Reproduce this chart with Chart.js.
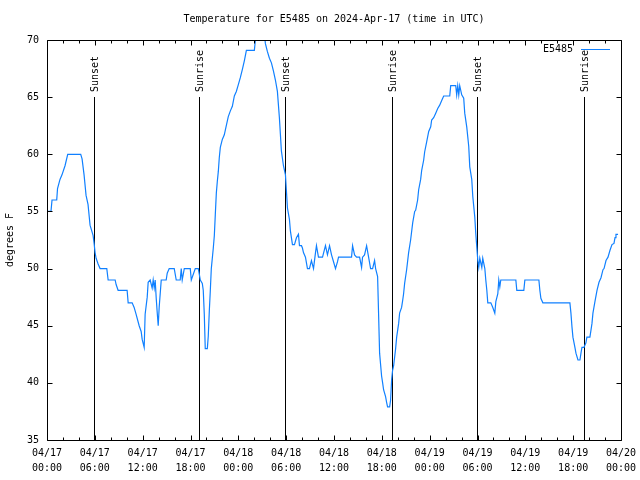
<!DOCTYPE html>
<html><head><meta charset="utf-8">
<script src="https://cdn.jsdelivr.net/npm/chart.js@4/dist/chart.umd.min.js"></script>
<style>html,body{margin:0;padding:0;background:#fff}</style>
</head><body>
<canvas id="c" width="640" height="480"></canvas>
<script>
// hours since 2024-04-17 00:00 UTC
const hours=[0,0.5,0.63,1.22,1.32,1.63,1.88,2.26,2.6,4.23,4.4,4.65,4.9,5.15,5.4,5.78,5.91,6.03,6.16,6.41,6.66,7.5,7.67,8.55,8.67,8.92,10.05,10.18,10.68,10.93,11.18,11.56,11.81,11.94,12.19,12.31,12.57,12.69,12.94,13.19,13.32,13.45,13.57,13.7,13.82,13.95,14.07,14.33,14.58,14.95,15.08,15.33,15.96,16.21,16.71,16.84,16.96,17.22,17.97,18.1,18.35,18.6,18.98,19.23,19.48,19.6,19.73,19.85,20.11,20.23,20.36,20.48,20.61,20.86,20.99,21.11,21.24,21.36,21.49,21.61,21.74,21.99,22.24,22.49,22.74,23.0,23.25,23.5,23.75,24.0,24.25,24.5,24.76,25.01,26.01,26.14,26.27,26.77,27.27,27.39,27.64,27.9,28.15,28.4,28.65,28.9,29.03,29.15,29.28,29.4,29.66,29.91,30.03,30.16,30.41,30.53,30.79,31.04,31.29,31.54,31.67,31.92,32.04,32.17,32.42,32.67,32.92,33.17,33.43,33.68,33.8,34.05,34.56,34.93,35.18,35.44,35.69,35.94,36.19,36.44,36.57,38.2,38.33,38.58,38.83,39.21,39.46,39.58,39.83,40.09,40.34,40.59,40.84,41.09,41.22,41.47,41.59,41.72,41.97,42.1,42.22,42.47,42.6,42.72,42.98,43.1,43.23,43.35,43.48,43.73,43.86,44.11,44.23,44.48,44.61,44.73,44.86,45.11,45.36,45.61,45.87,46.12,46.24,46.49,46.62,46.87,47.0,47.25,47.37,47.63,47.88,48.13,48.25,48.5,48.76,49.01,49.26,49.51,49.76,50.52,50.64,51.27,51.39,51.52,51.65,51.77,52.02,52.27,52.4,52.65,52.9,53.03,53.28,53.41,53.66,53.78,53.91,54.04,54.16,54.29,54.54,54.66,54.92,55.04,55.17,55.29,55.67,55.92,56.17,56.3,56.55,56.67,56.8,56.92,58.81,58.93,59.81,59.94,61.7,61.82,61.95,62.2,65.59,65.72,65.85,65.97,66.22,66.35,66.6,66.85,66.98,67.1,67.35,67.6,67.72,68.1,68.23,68.36,68.48,68.73,68.99,69.24,69.49,69.74,69.87,70.12,70.37,70.62,70.87,71.12,71.25,71.37,71.63];
const temps=[55,55,56,56,57,57.8,58.2,59,60,60,59.6,58.2,56.4,55.6,53.8,52.9,52.2,51.4,50.9,50.4,50,50,49,49,48.6,48.1,48.1,47,47,46.6,46,45,44.5,43.8,43.1,46,47.5,48.8,49,48.3,49,48.3,49,47.4,46.2,45,46.6,49,49,49,49.6,50,50,49,49,50,49,50,50,49,49.5,50,50,49,48.7,48.1,46,43,43,44.1,46.3,48,50,51.8,52.9,54.7,56.6,57.6,58.5,59.7,60.6,61.3,61.7,62.5,63.3,63.8,64.2,65.1,65.5,66.1,66.7,67.4,68.2,69.1,69.1,70,70.6,71,70.6,69.7,69,68.4,68,67.3,66.5,65.5,64.3,63.2,61.7,60.3,59,58.2,56.8,55.3,54.3,53.3,52.1,52.1,52.7,53,52,52,51.8,51.4,51,50,50,50.7,50,51.4,52,51,51,52,51.2,52,51.2,50.6,50,50.6,51,51,52,51.2,51,51,50.1,51,51.2,52,51,50,50,50.7,50,49.3,46.1,42.6,40.6,40,39.4,38.8,38.3,37.9,37.9,38.5,40.3,41.1,41.5,43,44,45.2,46.1,46.6,47.2,47.8,48.7,49.9,51.4,52.5,54,55,55.1,56,56.9,57.8,58.6,59.5,60.2,61.1,62,62.4,63,63.2,63.6,64,64.3,64.7,65.1,65.1,66,66,65.2,66,65.2,66,65.2,64.9,63.6,62.4,60.7,58.9,57.8,56.3,54.5,53.1,51.9,50.7,50.1,50.9,50.1,50.9,50,49,48.1,47,47,46.6,46.1,47.1,47.8,49,48.4,49,49,48.1,48.1,49,49,48.1,47.4,47,47,46.1,44.9,44,43.1,42.6,42,42,42.6,43.1,43.1,43.5,44,44,44.6,45.2,46.1,47.1,48.1,48.8,49.2,49.9,50,50.7,51,51.6,52.1,52.2,52.7,53,53];
const tickDates=['04/17','04/17','04/17','04/17','04/18','04/18','04/18','04/18','04/19','04/19','04/19','04/19','04/20'];
const tickTimes=['00:00','06:00','12:00','18:00','00:00','06:00','12:00','18:00','00:00','06:00','12:00','18:00','00:00'];
const sunHours=[5.91,19.1,29.9,43.23,53.9,67.35];
const sunLabels=['Sunset','Sunrise','Sunset','Sunrise','Sunset','Sunrise'];
const seriesName='E5485';
const chartTitle='Temperature for E5485 on 2024-Apr-17 (time in UTC)';

const FONT="'DejaVu Sans Mono', 'Liberation Mono', monospace";
Chart.defaults.font.family=FONT;
Chart.defaults.font.size=10;
Chart.defaults.color='#000';

const decor={
  id:'decor',
  beforeDatasetsDraw(chart){
    const {ctx,chartArea:a,scales:{x,y}}=chart;
    ctx.save();
    ctx.strokeStyle='#000';ctx.lineWidth=1;
    ctx.font='10px '+FONT;ctx.fillStyle='#000';
    sunHours.forEach((h,i)=>{
      const px=Math.round(x.getPixelForValue(h))+0.5;
      const top=Math.round(y.getPixelForValue(65));
      ctx.beginPath();ctx.moveTo(px,top);ctx.lineTo(px,a.bottom);ctx.stroke();
      ctx.save();ctx.translate(px+1,top-5);ctx.rotate(-Math.PI/2);
      ctx.textAlign='left';ctx.textBaseline='middle';
      ctx.fillText(sunLabels[i],0,0);ctx.restore();
    });
    ctx.restore();
  },
  afterDatasetsDraw(chart){
    const {ctx,chartArea:a,scales:{x,y}}=chart;
    ctx.save();
    ctx.strokeStyle='#000';ctx.lineWidth=1;
    const L=Math.round(a.left)+0.5,R=Math.round(a.right)+0.5,T=Math.round(a.top)+0.5,B=Math.round(a.bottom)+0.5;
    ctx.beginPath();
    ctx.rect(L,T,R-L,B-T);
    y.ticks.forEach(t=>{
      const py=Math.round(y.getPixelForValue(t.value))+0.5;
      ctx.moveTo(L,py);ctx.lineTo(L+5,py);
      ctx.moveTo(R,py);ctx.lineTo(R-5,py);
    });
    for(let h=x.min;h<=x.max;h+=2){
      const px=Math.round(x.getPixelForValue(h))+0.5;
      const len=(h%6===0)?5:3;
      ctx.moveTo(px,B);ctx.lineTo(px,B-len);
      ctx.moveTo(px,T);ctx.lineTo(px,T+len);
    }
    ctx.stroke();
    // key
    const ds=chart.data.datasets[0];
    ctx.font='10px '+FONT;ctx.fillStyle='#000';
    ctx.textAlign='right';ctx.textBaseline='middle';
    const ky=Math.round(a.top)+9;
    ctx.fillText(ds.label,a.right-48,ky);
    ctx.strokeStyle=ds.borderColor;
    ctx.beginPath();ctx.moveTo(a.right-40,ky+0.5);ctx.lineTo(a.right-11,ky+0.5);ctx.stroke();
    ctx.restore();
  }
};

new Chart(document.getElementById('c'),{
  type:'line',
  data:{datasets:[{
    label:seriesName,
    data:hours.map((h,i)=>({x:h,y:temps[i]})),
    borderColor:'#1080ff',borderWidth:1.2,pointRadius:0,tension:0,fill:false
  }]},
  options:{
    responsive:false,animation:false,
    layout:{padding:{left:0,right:19,top:0,bottom:0}},
    plugins:{
      legend:{display:false},tooltip:{enabled:false},
      title:{display:true,text:chartTitle,fullSize:false,color:'#000',
        font:{size:10,weight:'normal',family:FONT},padding:{top:13,bottom:15}}
    },
    scales:{
      x:{type:'linear',min:0,max:72,
        grid:{display:false,drawTicks:false},border:{display:false},
        ticks:{stepSize:6,autoSkip:false,maxRotation:0,padding:6,color:'#000',
          font:{size:10,lineHeight:1.5},
          callback:(v)=>{const i=Math.round(v/6);return [tickDates[i],tickTimes[i]];}},
        afterFit:s=>{s.height=40;s.paddingLeft=0;s.paddingRight=0;}},
      y:{min:35,max:70,
        grid:{display:false,drawTicks:false},border:{display:false},
        ticks:{stepSize:5,padding:8,color:'#000',font:{size:10}},
        title:{display:true,text:'degrees F',color:'#000',font:{size:10},padding:{top:4,bottom:0}},
        afterFit:s=>{s.width=47;s.paddingTop=0;s.paddingBottom=0;}}
    }
  },
  plugins:[decor]
});
</script>
</body></html>
